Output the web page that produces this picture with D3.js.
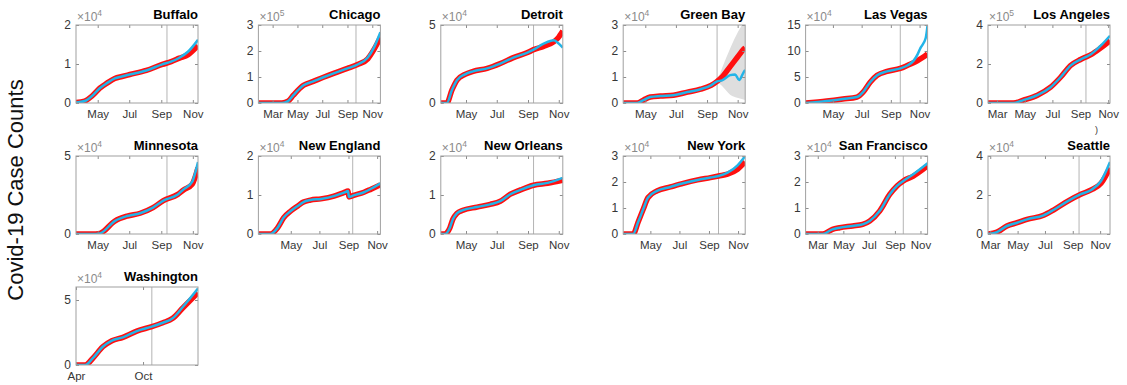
<!DOCTYPE html>
<html>
<head>
<meta charset="utf-8">
<script src="https://cdn.jsdelivr.net/npm/d3@7"></script>
<style>
  html, body { margin: 0; padding: 0; background: #fff; }
  svg { display: block; font-family: "Liberation Sans", Arial, Helvetica, sans-serif; }
</style>
</head>
<body>
<svg id="chart" width="1127" height="385"></svg>
<script>
// ---- panel setup ----
const cities = ["Buffalo", "Chicago", "Detroit", "Green Bay", "Las Vegas", "Los Angeles",
  "Minnesota", "New England", "New Orleans", "New York", "San Francisco", "Seattle", "Washington"];
const exponents = [4, 5, 4, 4, 4, 5, 4, 4, 4, 4, 4, 4, 4];
const yTickLabels = [[0, 1, 2], [0, 1, 2, 3], [0, 5], [0, 1, 2, 3], [0, 5, 10, 15], [0, 2, 4],
  [0, 5], [0, 1, 2], [0, 1, 2], [0, 1, 2, 3], [0, 1, 2, 3], [0, 2, 4], [0, 5]];
const yTops = [2, 3, 5, 3, 15, 4, 5, 2, 2, 3, 3, 4, 6];
const xStarts = ["2020-03-20", "2020-01-26", "2020-03-12", "2020-03-18", "2020-03-04", "2020-02-10",
  "2020-03-20", "2020-02-22", "2020-03-12", "2020-03-05", "2020-02-01", "2020-02-25", "2020-04-01"];
const xEnds = ["2020-11-11", "2020-11-21", "2020-11-09", "2020-11-16", "2020-11-18", "2020-11-05",
  "2020-11-11", "2020-11-08", "2020-11-09", "2020-11-16", "2020-11-18", "2020-11-23", "2021-02-28"];
const splitDates = ["2020-09-12", "2020-09-22", "2020-09-12", "2020-09-21", "2020-09-21", "2020-09-13",
  "2020-09-12", "2020-09-10", "2020-09-12", "2020-09-21", "2020-09-21", "2020-09-15", "2020-10-25"];
const ticksFromMar = ["2020-03-01", "2020-05-01", "2020-07-01", "2020-09-01", "2020-11-01"];
const ticksFromMay = ["2020-05-01", "2020-07-01", "2020-09-01", "2020-11-01"];
const ticksWashington = ["2020-04-01", "2020-10-01"];

// ---- series: observed counts (blue) and model fit / forecast (red) ----
const buffaloDates = ["2020-03-20", "2020-04-06", "2020-04-20", "2020-05-05", "2020-05-19", "2020-06-03", "2020-06-17",
  "2020-07-02", "2020-08-03", "2020-09-03", "2020-09-20", "2020-10-06", "2020-10-23", "2020-11-11"];
const buffaloObserved = [100, 500, 1800, 3800, 5100, 6300, 6800, 7300, 8350, 9900, 10600, 11600, 13200, 16200];
const buffaloModel = [100, 500, 1800, 3800, 5100, 6300, 6800, 7300, 8350, 9900, 10600, 11500, 12400, 14700];

const chicagoDates = ["2020-01-26", "2020-03-24", "2020-04-08", "2020-04-21", "2020-05-16", "2020-06-09", "2020-07-04",
  "2020-07-29", "2020-09-01", "2020-09-26", "2020-10-21", "2020-11-05", "2020-11-21"];
const chicagoObserved = [0, 0, 7000, 30000, 68000, 83000, 99000, 114000, 133000, 148000, 175000, 213000, 272000];
const chicagoModel = [0, 0, 7000, 30000, 68000, 83000, 99000, 114000, 133000, 148000, 170000, 205000, 252000];

const detroitDates = ["2020-03-12", "2020-03-24", "2020-04-03", "2020-04-13", "2020-04-29", "2020-05-15", "2020-06-12",
  "2020-07-08", "2020-08-03", "2020-08-31", "2020-09-12", "2020-10-02", "2020-10-22", "2020-10-30", "2020-11-09"];
const detroitObserved = [0, 0, 8200, 14600, 18400, 20300, 22200, 25300, 29100, 32300, 34200, 38000, 40300, 38600, 35500];
const detroitModel = [0, 0, 8200, 14600, 18400, 20300, 22200, 25300, 29100, 32300, 34200, 36300, 39200, 41500, 46200];

const greenBayDates = ["2020-03-18", "2020-04-15", "2020-04-27", "2020-05-11", "2020-05-31", "2020-06-26", "2020-07-24",
  "2020-08-19", "2020-09-09", "2020-09-21", "2020-10-01", "2020-10-17", "2020-10-27", "2020-11-04", "2020-11-12", "2020-11-16"];
const greenBayObserved = [0, 0, 1100, 2300, 2700, 3000, 4200, 5300, 6800, 8300, 8700, 10700, 11000, 8800, 11500, 12700];
const greenBayModel = [0, 0, 1100, 2300, 2700, 3000, 4200, 5300, 6800, 8300, 10000, 14000, 16500, 18500, 20500, 21200];
const greenBayBandDates = ["2020-09-21", "2020-10-01", "2020-10-17", "2020-11-02", "2020-11-16"];
const greenBayUpper = [8300, 13500, 21000, 27500, 32000];
const greenBayLower = [8300, 6500, 3200, 1900, 1200];

const lasVegasDates = ["2020-03-04", "2020-04-18", "2020-05-22", "2020-06-21", "2020-07-04", "2020-07-19", "2020-08-03",
  "2020-08-24", "2020-09-21", "2020-10-06", "2020-10-19", "2020-10-28", "2020-11-03", "2020-11-14", "2020-11-18"];
const lasVegasObserved = [0, 3800, 7600, 11400, 20900, 39900, 53200, 60800, 66500, 72200, 81000, 94000, 106000, 125000, 150000];
const lasVegasModel = [0, 3800, 7600, 11400, 20900, 39900, 53200, 60800, 66500, 72200, 77500, 81700, 85000, 91500, 95000];

const losAngelesDates = ["2020-02-10", "2020-04-06", "2020-04-28", "2020-05-29", "2020-06-27", "2020-07-19", "2020-08-10",
  "2020-09-01", "2020-09-13", "2020-09-24", "2020-10-16", "2020-11-05"];
const losAngelesObserved = [0, 0, 15000, 40000, 81000, 132000, 192000, 223000, 236000, 250000, 295000, 345000];
const losAngelesModel = [0, 0, 15000, 40000, 81000, 132000, 192000, 223000, 236000, 248000, 283000, 320000];

const minnesotaDates = ["2020-03-20", "2020-04-20", "2020-05-05", "2020-06-03", "2020-06-27", "2020-07-22", "2020-08-16",
  "2020-09-05", "2020-10-03", "2020-10-14", "2020-10-31", "2020-11-05", "2020-11-11"];
const minnesotaObserved = [0, 0, 400, 8300, 11500, 13300, 16900, 21400, 25400, 28600, 33500, 38500, 46100];
const minnesotaModel = [0, 0, 400, 8300, 11500, 13300, 16900, 21400, 25400, 28200, 32000, 36000, 42500];

const newEnglandDates = ["2020-02-22", "2020-03-19", "2020-04-03", "2020-04-16", "2020-05-01", "2020-05-16", "2020-05-28",
  "2020-06-12", "2020-07-04", "2020-08-01", "2020-08-22", "2020-08-31", "2020-09-02", "2020-09-12", "2020-10-04",
  "2020-10-19", "2020-11-08"];
const newEnglandObserved = [0, 0, 1600, 4200, 5900, 7200, 8200, 8700, 9000, 9700, 10600, 11000, 9500, 9900, 10700, 11600, 13000];
const newEnglandModel = [0, 0, 1600, 4200, 5900, 7200, 8200, 8700, 9000, 9700, 10600, 11000, 9500, 9900, 10700, 11500, 12600];

const newOrleansDates = ["2020-03-12", "2020-03-20", "2020-03-30", "2020-04-05", "2020-04-13", "2020-04-25", "2020-05-23",
  "2020-06-18", "2020-07-08", "2020-07-28", "2020-08-17", "2020-09-12", "2020-10-10", "2020-11-09"];
const newOrleansObserved = [0, 0, 1600, 3800, 5300, 6100, 6900, 7600, 8400, 10200, 11300, 12500, 13100, 14400];
const newOrleansModel = [0, 0, 1600, 3800, 5300, 6100, 6900, 7600, 8400, 10200, 11300, 12500, 13000, 13800];

const newYorkDates = ["2020-03-05", "2020-03-26", "2020-04-05", "2020-04-16", "2020-04-26", "2020-05-15", "2020-06-12",
  "2020-07-09", "2020-08-08", "2020-09-04", "2020-09-21", "2020-10-10", "2020-10-31", "2020-11-16"];
const newYorkObserved = [0, 0, 4400, 9500, 14000, 16600, 18100, 19500, 20800, 21700, 22300, 23600, 26400, 30000];
const newYorkModel = [0, 0, 4400, 9500, 14000, 16600, 18100, 19500, 20800, 21700, 22300, 23000, 24900, 27700];

const sanFranciscoDates = ["2020-02-01", "2020-03-13", "2020-04-05", "2020-04-22", "2020-05-23", "2020-06-16", "2020-07-03",
  "2020-07-27", "2020-08-20", "2020-09-06", "2020-09-21", "2020-10-15", "2020-11-18"];
const sanFranciscoObserved = [0, 0, 1800, 2400, 3100, 3700, 5000, 8900, 15300, 18500, 20400, 23000, 27200];
const sanFranciscoModel = [0, 0, 1800, 2400, 3100, 3700, 5000, 8900, 15300, 18500, 20400, 22300, 26200];

const seattleDates = ["2020-02-25", "2020-03-16", "2020-04-07", "2020-04-30", "2020-05-22", "2020-06-28", "2020-07-20",
  "2020-08-21", "2020-09-19", "2020-10-12", "2020-11-03", "2020-11-23"];
const seattleObserved = [0, 1000, 4100, 5800, 7500, 9600, 12300, 16900, 20400, 22600, 27200, 36900];
const seattleModel = [0, 1000, 4100, 5800, 7500, 9600, 12300, 16900, 20400, 22600, 26000, 34000];

const washingtonDates = ["2020-04-01", "2020-04-26", "2020-05-17", "2020-06-13", "2020-07-08", "2020-08-07", "2020-09-14",
  "2020-10-25", "2020-11-24", "2020-12-21", "2021-01-18", "2021-02-28"];
const washingtonObserved = [0, 0, 5200, 14000, 18700, 21300, 26100, 29500, 32500, 35900, 44800, 58900];
const washingtonModel = [0, 0, 5200, 14000, 18700, 21300, 26100, 29500, 32500, 35900, 44000, 55600];

const allDates = [buffaloDates, chicagoDates, detroitDates, greenBayDates, lasVegasDates, losAngelesDates,
  minnesotaDates, newEnglandDates, newOrleansDates, newYorkDates, sanFranciscoDates, seattleDates, washingtonDates];
const allObserved = [buffaloObserved, chicagoObserved, detroitObserved, greenBayObserved, lasVegasObserved,
  losAngelesObserved, minnesotaObserved, newEnglandObserved, newOrleansObserved, newYorkObserved,
  sanFranciscoObserved, seattleObserved, washingtonObserved];
const allModel = [buffaloModel, chicagoModel, detroitModel, greenBayModel, lasVegasModel, losAngelesModel,
  minnesotaModel, newEnglandModel, newOrleansModel, newYorkModel, sanFranciscoModel, seattleModel, washingtonModel];
const allTicks = [ticksFromMay, ticksFromMar, ticksFromMay, ticksFromMay, ticksFromMay, ticksFromMar,
  ticksFromMay, ticksFromMay, ticksFromMay, ticksFromMay, ticksFromMar, ticksFromMar, ticksWashington];

// ---- layout ----
const panelLeft0 = 76, panelStepX = 182.4, panelW = 122;
const panelTop0 = 25, panelStepY = 131, panelH = 78;
const RED = "#ff1010", BLUE = "#22b4e8";
const BOX = "#a0a0a0", TICK = "#8c8c8c", LABEL = "#363636", EXPO = "#8a8a8a";

const parse = d3.timeParse("%Y-%m-%d");
const svg = d3.select("#chart");

svg.append("text")
  .attr("transform", "translate(23,190) rotate(-90)")
  .attr("text-anchor", "middle")
  .style("font-size", "22px")
  .style("fill", "#111")
  .text("Covid-19 Case Counts");

cities.forEach((city, i) => {
  const col = i % 6, row = Math.floor(i / 6);
  const left = panelLeft0 + col * panelStepX;
  const top = panelTop0 + row * panelStepY;
  const scale = Math.pow(10, exponents[i]);

  const x = d3.scaleTime()
    .domain([parse(xStarts[i]), parse(xEnds[i])])
    .range([0, panelW]);
  const y = d3.scaleLinear()
    .domain([0, yTops[i] * scale])
    .range([panelH, 0]);

  const g = svg.append("g").attr("transform", `translate(${left},${top})`);

  const clipId = "clip" + i;
  g.append("clipPath").attr("id", clipId)
    .append("rect").attr("width", panelW).attr("height", panelH);

  const plot = g.append("g").attr("clip-path", `url(#${clipId})`);

  // forecast uncertainty band
  if (city === "Green Bay") {
    const band = greenBayBandDates.map((d, k) => ({ date: parse(d), lo: greenBayLower[k], hi: greenBayUpper[k] }));
    plot.append("path")
      .datum(band)
      .attr("fill", "#dedede")
      .attr("d", d3.area()
        .x(d => x(d.date))
        .y0(d => y(d.lo))
        .y1(d => y(d.hi))
        .curve(d3.curveMonotoneX));
  }

  // start of forecast window
  const sx = x(parse(splitDates[i]));
  plot.append("line")
    .attr("x1", sx).attr("x2", sx)
    .attr("y1", 0).attr("y2", panelH)
    .attr("stroke", "#b4b4b4").attr("stroke-width", 1);

  const dates = allDates[i].map(parse);
  const line = d3.line()
    .x(d => x(d.date))
    .y(d => y(d.value))
    .curve(d3.curveMonotoneX);

  plot.append("path")
    .datum(dates.map((d, k) => ({ date: d, value: allModel[i][k] })))
    .attr("fill", "none")
    .attr("stroke", RED)
    .attr("stroke-width", 5.5)
    .attr("stroke-linejoin", "round")
    .attr("d", line);

  plot.append("path")
    .datum(dates.map((d, k) => ({ date: d, value: allObserved[i][k] })))
    .attr("fill", "none")
    .attr("stroke", BLUE)
    .attr("stroke-width", 2.5)
    .attr("stroke-linejoin", "round")
    .attr("d", line);

  // axes with inward ticks on all four sides
  const tickDates = allTicks[i].map(parse);
  const yVals = yTickLabels[i].map(v => v * scale);

  const xAxis = g.append("g")
    .attr("transform", `translate(0,${panelH})`)
    .call(d3.axisBottom(x).tickValues(tickDates).tickFormat(d3.timeFormat("%b"))
      .tickSizeInner(-3).tickSizeOuter(0).tickPadding(7));
  const xTop = g.append("g")
    .call(d3.axisTop(x).tickValues(tickDates).tickFormat("")
      .tickSizeInner(-3).tickSizeOuter(0));
  const yAxis = g.append("g")
    .call(d3.axisLeft(y).tickValues(yVals).tickFormat(v => d3.format("d")(v / scale))
      .tickSizeInner(-3).tickSizeOuter(0).tickPadding(5));
  const yRight = g.append("g")
    .attr("transform", `translate(${panelW},0)`)
    .call(d3.axisRight(y).tickValues(yVals).tickFormat("")
      .tickSizeInner(-3).tickSizeOuter(0));

  [xAxis, xTop, yAxis, yRight].forEach(a => {
    a.select(".domain").remove();
    a.selectAll(".tick line").attr("stroke", TICK);
    a.selectAll(".tick text")
      .attr("fill", LABEL)
      .style("font-family", "'Liberation Sans', Arial, Helvetica, sans-serif")
      .style("font-size", "11.5px");
  });
  yAxis.selectAll(".tick text").style("font-size", "12px").attr("dy", "0.3em");

  g.append("rect")
    .attr("width", panelW).attr("height", panelH)
    .attr("fill", "none")
    .attr("stroke", BOX).attr("stroke-width", 1);

  // exponent marker
  const ex = g.append("text")
    .attr("x", 1).attr("y", -4)
    .attr("fill", EXPO)
    .style("font-size", "12px");
  ex.append("tspan").text("\u00d710");
  ex.append("tspan").attr("dy", -5).style("font-size", "8.5px").text(exponents[i]);

  // panel title
  g.append("text")
    .attr("x", panelW).attr("y", -6)
    .attr("text-anchor", "end")
    .attr("fill", "#000")
    .style("font-size", "13px")
    .style("font-weight", "bold")
    .text(city);
});

// stray mark above the Seattle panel
svg.append("text")
  .attr("x", 1095).attr("y", 133)
  .attr("fill", "#333")
  .style("font-size", "9px")
  .text(")");
</script>
</body>
</html>
